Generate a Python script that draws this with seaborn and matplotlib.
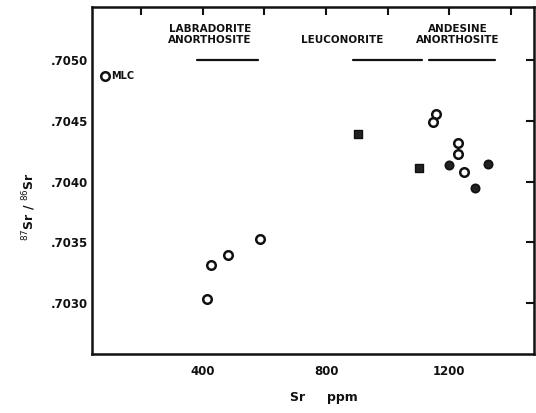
import matplotlib
matplotlib.use("Agg")
import matplotlib.pyplot as plt
import seaborn as sns
import pandas as pd

sns.set_theme(style="white")
plt.rcParams["font.family"] = ["DejaVu Sans"]

# Sr concentration (ppm) and 87Sr/86Sr for each sample group
mlc_sr = [81]
mlc_ratio = [0.70487]

labradorite_sr = [413, 426, 481, 585]
labradorite_ratio = [0.70303, 0.70331, 0.70340, 0.70353]

leuconorite_sr = [904, 1102]
leuconorite_ratio = [0.70439, 0.70411]

andesine_open_sr = [1158, 1148, 1229, 1229, 1249]
andesine_open_ratio = [0.70456, 0.70449, 0.70432, 0.70423, 0.70408]

andesine_filled_sr = [1200, 1327, 1285]
andesine_filled_ratio = [0.70414, 0.70415, 0.70395]

# Sr ranges of the rock types, drawn as bars under their names
range_names = ["LABRADORITE\nANORTHOSITE", "LEUCONORITE", "ANDESINE\nANORTHOSITE"]
range_lo = [380, 888, 1135]
range_hi = [579, 1112, 1350]

x_ticks = [400, 800, 1200]
x_minor = [200, 600, 1000, 1400]
y_ticks = [0.7030, 0.7035, 0.7040, 0.7045, 0.7050]
y_ticklabels = [".7030", ".7035", ".7040", ".7045", ".7050"]

fig = plt.figure(figsize=(5.36, 4.13), dpi=100)
ax = fig.add_axes([0.1716, 0.1429, 0.8246, 0.840])

open_df = pd.DataFrame({
    "sr": mlc_sr + labradorite_sr + andesine_open_sr,
    "ratio": mlc_ratio + labradorite_ratio + andesine_open_ratio,
})
filled_df = pd.DataFrame({"sr": andesine_filled_sr, "ratio": andesine_filled_ratio})
square_df = pd.DataFrame({"sr": leuconorite_sr, "ratio": leuconorite_ratio})

sns.scatterplot(data=open_df, x="sr", y="ratio", ax=ax, marker="o", s=38,
                facecolor="white", edgecolor="#111111", linewidth=1.8, zorder=3)
sns.scatterplot(data=filled_df, x="sr", y="ratio", ax=ax, marker="o", s=36,
                color="#222222", edgecolor="#111111", linewidth=1.2, zorder=3)
sns.scatterplot(data=square_df, x="sr", y="ratio", ax=ax, marker="s", s=36,
                color="#222222", edgecolor="#111111", linewidth=1.0, zorder=3)

ax.text(mlc_sr[0] + 22, mlc_ratio[0], "MLC", fontsize=7, fontweight="bold",
        va="center", ha="left", color="#111111")

# name placement (centre in ppm, height above the bar)
name_x = [423, 852, 1229]
name_dy = [0.00013, 0.00013, 0.00013]

bar_y = 0.70500
for name, lo, hi, nx, dy in zip(range_names, range_lo, range_hi, name_x, name_dy):
    ax.plot([lo, hi], [bar_y, bar_y], color="#111111", lw=1.6)
    ax.text(nx, bar_y + dy, name, fontsize=7.5, fontweight="bold",
            ha="center", va="bottom", color="#111111", linespacing=1.05)

ax.set_xlim(40, 1475)
ax.set_ylim(0.70258, 0.70544)
ax.set_xticks(x_ticks)
ax.set_xticks(x_minor, minor=True)
ax.set_yticks(y_ticks)
ax.set_yticklabels(y_ticklabels)
ax.tick_params(axis="both", which="both", direction="in", length=6, width=1.5,
               color="#111111", top=True, right=True, labelsize=8.5,
               labelcolor="#111111")
ax.tick_params(axis="x", pad=8)
ax.tick_params(axis="y", pad=3)
for lab in ax.get_xticklabels() + ax.get_yticklabels():
    lab.set_fontweight("bold")
for sp in ax.spines.values():
    sp.set_color("#111111")
    sp.set_linewidth(1.8)

ax.set_xlabel("")
ax.set_ylabel("")
fig.text(0.605, 0.022, "Sr     ppm", fontsize=9, fontweight="bold",
         ha="center", va="bottom", color="#111111")
fig.text(0.055, 0.50, r"$^{87}$Sr / $^{86}$Sr", fontsize=9, fontweight="bold",
         rotation=90, ha="center", va="center", color="#111111")

fig.savefig("out.png", dpi=100, facecolor="white")
